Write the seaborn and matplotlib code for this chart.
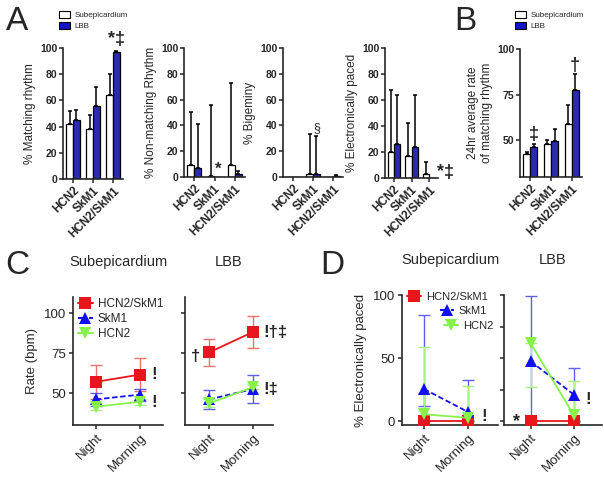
import numpy as np
import pandas as pd
import seaborn as sns
import matplotlib.pyplot as plt
from matplotlib.patches import Patch
from matplotlib.lines import Line2D

# ---------------- data ----------------
groups = ["HCN2", "SkM1", "HCN2/SkM1"]
sites = ["Subepicardium", "LBB"]

matching_sub = [42, 38, 64]
matching_sub_err = [10, 11, 16]
matching_lbb = [45, 56, 97]
matching_lbb_err = [8, 14, 1]

nonmatch_sub = [9, 0.5, 9]
nonmatch_sub_err = [41, 55.5, 64]
nonmatch_lbb = [7, 0, 2]
nonmatch_lbb_err = [34, 0, 3]

bigem_sub = [0.3, 2.5, 0]
bigem_sub_err = [0, 31, 0]
bigem_lbb = [0, 2.5, 0.8]
bigem_lbb_err = [0, 29, 0.5]

paced_sub = [20, 17, 3]
paced_sub_err = [48, 25, 9]
paced_lbb = [26, 24, 0]
paced_lbb_err = [38, 40, 0]

rate24_sub = [42.8, 48, 58.9]
rate24_sub_err = [0.9, 2.4, 10.6]
rate24_lbb = [46.4, 49.8, 77.7]
rate24_lbb_err = [1.8, 6.3, 8.7]

times = ["Night", "Morning"]
genes = ["HCN2/SkM1", "SkM1", "HCN2"]

# panel C: mean and sem
rate_sub = {"HCN2/SkM1": [57, 61.5], "SkM1": [46, 49], "HCN2": [41.5, 44.5]}
rate_sub_err = {"HCN2/SkM1": [10.5, 10.5], "SkM1": [4, 3.7], "HCN2": [2, 2]}
rate_lbb = {"HCN2/SkM1": [75.4, 88.2], "SkM1": [46, 52.5], "HCN2": [43.5, 53.7]}
rate_lbb_err = {"HCN2/SkM1": [8.3, 9.8], "SkM1": [6, 9], "HCN2": [2.5, 1.5]}

# panel D: mean, lower and upper ends of the error bars
pace_sub = {"HCN2/SkM1": [0, 0], "SkM1": [25.5, 7.3], "HCN2": [5.5, 2.7]}
pace_sub_lo = {"HCN2/SkM1": [0, 0], "SkM1": [12.3, 0], "HCN2": [0, 0]}
pace_sub_hi = {"HCN2/SkM1": [22, 0], "SkM1": [84, 33], "HCN2": [58.7, 28]}
pace_lbb = {"HCN2/SkM1": [0, 0], "SkM1": [47.4, 21], "HCN2": [61.6, 4.6]}
pace_lbb_lo = {"HCN2/SkM1": [0, 0], "SkM1": [0, 0], "HCN2": [27.4, 0]}
pace_lbb_hi = {"HCN2/SkM1": [0, 0], "SkM1": [99.5, 42.4], "HCN2": [61.6, 32]}

BLUE = "#1414c8"
line_colors = {"HCN2/SkM1": "#e8161c", "SkM1": "#1010f0", "HCN2": "#86f24a"}
err_colors = {"HCN2/SkM1": "#f07070", "SkM1": "#6060f0", "HCN2": "#a8f080"}
markers = {"HCN2/SkM1": "s", "SkM1": "^", "HCN2": "v"}
dashes = {"HCN2/SkM1": "", "SkM1": (3, 1.5), "HCN2": ""}

sns.set_style("ticks")
plt.rcParams["font.family"] = ["Liberation Sans", "DejaVu Sans"]
plt.rcParams["axes.linewidth"] = 1.2
plt.rcParams["xtick.major.width"] = 1.1
plt.rcParams["ytick.major.width"] = 1.1
plt.rcParams["xtick.major.size"] = 3
plt.rcParams["ytick.major.size"] = 3

W, H = 604, 479
fig = plt.figure(figsize=(W / 100, H / 100), dpi=100)


def add_ax(x0, x1, y0, y1):
    ax = fig.add_axes([x0 / W, 1 - y1 / H, (x1 - x0) / W, (y1 - y0) / H])
    ax.patch.set_alpha(0)
    return ax


def bar_panel(ax, sub, sub_err, lbb, lbb_err, ylabel, ylim, yticks):
    df = pd.DataFrame({
        "group": groups * 2,
        "site": [sites[0]] * 3 + [sites[1]] * 3,
        "value": sub + lbb,
    })
    sns.barplot(data=df, x="group", y="value", hue="site", palette=["white", BLUE],
                edgecolor="black", linewidth=0.9, errorbar=None, width=0.68,
                ax=ax, legend=False)
    for cont, vals, errs in zip(ax.containers, [sub, lbb], [sub_err, lbb_err]):
        for bar, v, e in zip(cont, vals, errs):
            if e > 0:
                x = bar.get_x() + bar.get_width() / 2
                ax.errorbar(x, v, yerr=[[0], [e]], color="black", capsize=1.5,
                            elinewidth=1.1, capthick=1.1)
    ax.set_ylim(*ylim)
    ax.set_xlim(-0.5, 2.5)
    ax.set_yticks(yticks)
    ax.set_xlabel("")
    ax.set_ylabel(ylabel, fontsize=8.5, labelpad=3)
    ax.tick_params(axis="y", labelsize=7.5, pad=1)
    ax.tick_params(axis="x", labelsize=8.5, pad=1)
    for t in ax.get_yticklabels():
        t.set_fontweight("bold")
    ax.set_xticks(range(3))
    ax.set_xticklabels(groups, rotation=45, ha="right", rotation_mode="anchor",
                       fontweight="bold")
    sns.despine(ax=ax)


def line_panel(ax, means, lo, hi, ylim, yticks, xlim, labels=True):
    rows = []
    for g in genes:
        for t, m in zip(times, means[g]):
            rows.append({"time": t, "gene": g, "value": m})
    df = pd.DataFrame(rows)
    df["x"] = df["time"].map({t: i for i, t in enumerate(times)})
    for g in genes:
        xs = np.arange(2)
        ax.errorbar(xs, means[g],
                    yerr=[np.array(means[g]) - np.array(lo[g]),
                          np.array(hi[g]) - np.array(means[g])],
                    fmt="none", ecolor=err_colors[g], elinewidth=1.0,
                    capsize=4, capthick=1.0, zorder=1)
    sns.lineplot(data=df, x="x", y="value", hue="gene", style="gene",
                 palette=line_colors, markers=markers, dashes=dashes,
                 markersize=8, markeredgewidth=0, linewidth=1.3, ax=ax,
                 legend=False, zorder=3)
    ax.set_xlim(*xlim)
    ax.set_ylim(*ylim)
    ax.set_yticks(yticks)
    ax.set_xticks([0, 1])
    ax.set_xticklabels(times, rotation=45, ha="right", rotation_mode="anchor")
    ax.tick_params(axis="x", labelsize=9.5, pad=2)
    ax.tick_params(axis="y", labelsize=9.5, pad=2)
    if not labels:
        ax.set_yticklabels([])
    ax.set_xlabel("")
    ax.set_ylabel("")
    sns.despine(ax=ax)


# ---------------- panel A ----------------
a1 = add_ax(63, 123, 48, 179)
bar_panel(a1, matching_sub, matching_sub_err, matching_lbb, matching_lbb_err,
          "% Matching rhythm", (0, 100), range(0, 101, 20))
a1.text(2.2, 100, "*\u2021", fontsize=13, fontweight="bold", ha="center", va="bottom")

a2 = add_ax(184, 245, 48, 177)
bar_panel(a2, nonmatch_sub, nonmatch_sub_err, nonmatch_lbb, nonmatch_lbb_err,
          "% Non-matching Rhythm", (0, 100), range(0, 101, 20))
a2.text(1.17, 0, "*", fontsize=12, fontweight="bold", ha="center", va="bottom")

a3 = add_ax(283, 343, 48, 177)
bar_panel(a3, bigem_sub, bigem_sub_err, bigem_lbb, bigem_lbb_err,
          "% Bigeminy", (0, 100), range(0, 101, 20))
a3.text(1.17, 33, "\u00a7", fontsize=9, ha="center", va="bottom")

a4 = add_ax(385, 438, 48, 178)
bar_panel(a4, paced_sub, paced_sub_err, paced_lbb, paced_lbb_err,
          "% Electronically paced", (0, 100), range(0, 101, 20))
a4.text(2.45, 4, "*\u2021", fontsize=13, fontweight="bold", ha="left", va="center")

# ---------------- panel B ----------------
b = add_ax(520, 582, 49, 177)
bar_panel(b, rate24_sub, rate24_sub_err, rate24_lbb, rate24_lbb_err,
          "24hr average rate\nof matching rhythm", (30, 100), [50, 75, 100])
b.text(0.17, 48.5, "\u2021", fontsize=13, fontweight="bold", ha="center", va="bottom")
b.text(2.17, 86.5, "\u2020", fontsize=13, fontweight="bold", ha="center", va="bottom")

leg_handles = [Patch(facecolor="white", edgecolor="black", linewidth=0.8),
               Patch(facecolor=BLUE, edgecolor="black", linewidth=0.8)]
for x0 in (59, 515):
    fig.legend(leg_handles, sites, loc="upper left",
               bbox_to_anchor=(x0 / W, 1 - 11 / H), fontsize=5.8, frameon=False,
               handlelength=1.4, handleheight=0.9, handletextpad=0.5,
               labelspacing=0.35, borderaxespad=0, borderpad=0)

# ---------------- panel C ----------------
c1 = add_ax(73, 163, 297, 425)
line_panel(c1, rate_sub,
           {g: np.array(rate_sub[g]) - np.array(rate_sub_err[g]) for g in genes},
           {g: np.array(rate_sub[g]) + np.array(rate_sub_err[g]) for g in genes},
           (30, 110), [50, 75, 100], (-0.52, 1.52))
c1.set_ylabel("Rate (bpm)", fontsize=9.5)
c1.text(1.25, 61.5, "!", fontsize=12, fontweight="bold", va="center")
c1.text(1.25, 44, "!", fontsize=12, fontweight="bold", va="center")
c1.set_title("Subepicardium", fontsize=10.5, pad=22)

c2 = add_ax(185, 273, 297, 425)
line_panel(c2, rate_lbb,
           {g: np.array(rate_lbb[g]) - np.array(rate_lbb_err[g]) for g in genes},
           {g: np.array(rate_lbb[g]) + np.array(rate_lbb_err[g]) for g in genes},
           (30, 110), [50, 75, 100], (-0.55, 1.45), labels=False)
c2.text(-0.32, 73, "\u2020", fontsize=12, fontweight="bold", va="center", ha="center")
c2.text(1.22, 88, "!\u2020\u2021", fontsize=12, fontweight="bold", va="center")
c2.text(1.22, 52, "!\u2021", fontsize=12, fontweight="bold", va="center")
c2.set_title("LBB", fontsize=10.5, pad=22)


def gene_handle(g):
    return Line2D([], [], color=line_colors[g], marker=markers[g], markersize=8,
                  markeredgewidth=0, linestyle="--" if g == "SkM1" else "-")


c_handles = [gene_handle(g) for g in genes]
c1.legend(c_handles, genes, loc="upper left", bbox_to_anchor=(0.05, 0.99),
          fontsize=8.5, frameon=False, handlelength=1.3, labelspacing=0.25,
          borderaxespad=0, borderpad=0, handletextpad=0.4)

# ---------------- panel D ----------------
d1 = add_ax(402, 498, 295, 425)
line_panel(d1, pace_sub, pace_sub_lo, pace_sub_hi, (-3, 100), [0, 50, 100], (-0.5, 1.68))
d1.set_ylabel("% Electronically paced", fontsize=9.5)
d1.text(1.3, 4, "!", fontsize=12, fontweight="bold", va="center")
d1.set_title("Subepicardium", fontsize=10.5, pad=22)
# legend entries in panel D are staggered, one small legend per entry
for g, (lx, ly) in zip(genes, [(407, 297), (440, 311), (444, 326)]):
    fig.legend([gene_handle(g)], [g], loc="center left",
               bbox_to_anchor=(lx / W, 1 - ly / H), fontsize=8, frameon=False,
               handlelength=1.3, borderaxespad=0, borderpad=0, handletextpad=0.4)

d2 = add_ax(504, 602, 295, 425)
line_panel(d2, pace_lbb, pace_lbb_lo, pace_lbb_hi, (-3, 100), [0, 25, 50, 75, 100],
           (-0.62, 1.65), labels=False)
d2.text(-0.32, 0, "*", fontsize=13, fontweight="bold", va="center", ha="center")
d2.text(1.27, 17, "!", fontsize=12, fontweight="bold", va="center")
d2.set_title("LBB", fontsize=10.5, pad=22)

# panel letters
for letter, x, y in [("A", 6, 6), ("B", 454, 6), ("C", 5, 250), ("D", 320, 250)]:
    fig.text(x / W, 1 - y / H, letter, fontsize=24, va="top", ha="left")

plt.savefig("out.png", dpi=100)
